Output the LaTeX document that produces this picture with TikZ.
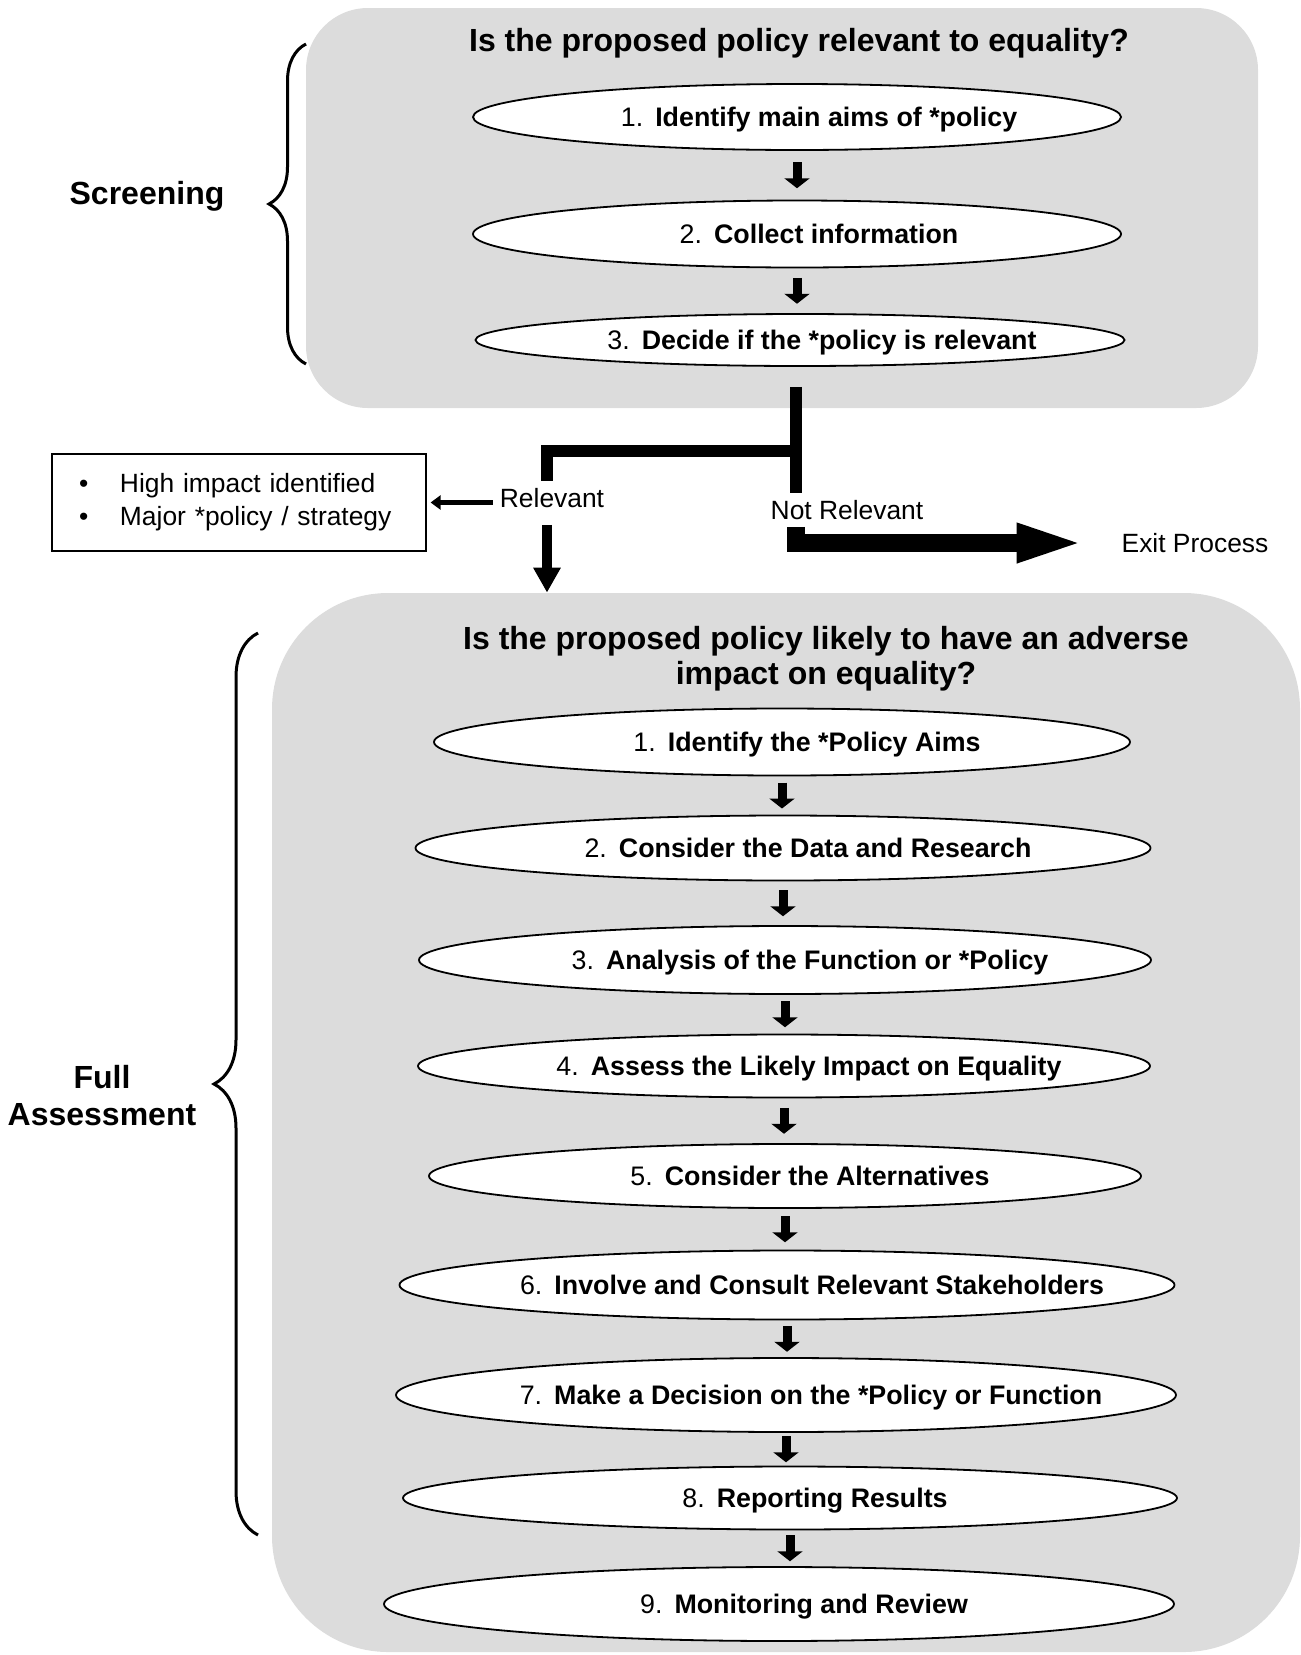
\documentclass[tikz,border=0pt]{standalone}
\usepackage{fontspec}
\setmainfont{Liberation Sans}
\usepackage{tikz}
\usetikzlibrary{arrows.meta,positioning,calc,shapes.geometric,decorations.pathreplacing}

\definecolor{panelgray}{RGB}{220,220,220}

% text of a stage, kept out of the ellipse size
\newcommand{\stagetext}[3][25pt]{\makebox[0pt]{\raisebox{-0.358em}[0pt][0pt]{\hspace*{#1}#2.\hspace{0.45em}\textbf{#3}}}}
\newcommand{\bulletline}[1]{\makebox[20.5pt][l]{\textbullet}#1}
\newcommand{\stagelink}[2]{\draw[linkarrow] ($(#1.south)!.5!(#1.south |- #2.north)+(0,-13)$) -- ++(0,26);}

\begin{document}
\begin{tikzpicture}[
	x=0.5pt, y=-0.5pt,
	panel/.style={fill=panelgray, rounded corners=#1, inner sep=0pt},
	stage/.style={
		ellipse,
		draw,
		line width=0.9pt,
		fill=white,
		inner sep=0pt,
		font=\fontsize{13.4}{16}\selectfont
	},
	heading/.style={font=\bfseries\fontsize{16}{17.5}\selectfont, align=center, inner sep=0pt},
	plain/.style={font=\fontsize{13.2}{16.5}\selectfont},
	infobox/.style={
		draw,
		line width=0.6pt,
		minimum width=187pt,
		minimum height=48.5pt,
		text width=160pt,
		inner xsep=13.5pt,
		align=left,
		font=\fontsize{13.2}{16.5}\selectfont
	},
	linkarrow/.style={line width=4.5pt, -{Triangle[width=12.5pt,length=5pt]}},
	forkline/.style={line width=6.2pt, line join=miter},
	relarrow/.style={line width=5pt, -{Triangle[width=13pt,length=12.5pt]}, shorten <=5pt},
	exitarrow/.style={line width=9pt, line join=miter, -{Triangle[width=17pt,length=36pt]}, shorten >=13pt},
	sidearrow/.style={line width=2.5pt, -{Triangle[width=7pt,length=5pt]}, shorten >=2pt},
	bracket/.style={decorate, decoration={brace, amplitude=#1}, line width=1.5pt}
	]
	\useasboundingbox (0,0) rectangle (1301,1655);
	
	% grey panels
	\node[panel=31pt, minimum width=476pt, minimum height=200pt] (screen) at (782,208) {};
	\node[panel=58pt, minimum width=514pt, minimum height=529.5pt] (assess) at (786,1122.5) {};
	
	\node[heading] (q1) at (799,43) {Is the proposed policy relevant to equality?};
	\node[heading] (q2) at (826,658.5) {Is the proposed policy likely to have an adverse\\impact on equality?};
	
	% screening stages
	\node[stage, minimum width=324pt, minimum height=33pt] (t1) at (797,117) {\stagetext[22pt]{1}{Identify main aims of *policy}};
	\node[stage, minimum width=324pt, minimum height=33.5pt] (t2) at (797,234) {\stagetext[22pt]{2}{Collect information}};
	\node[stage, minimum width=324.5pt, minimum height=26pt] (t3) at (800,340) {\stagetext[22pt]{3}{Decide if the *policy is relevant}};
	
	% full assessment stages
	\node[stage, minimum width=348pt, minimum height=33.5pt] (a1) at (782,742) {\stagetext{1}{Identify the *Policy Aims}};
	\node[stage, minimum width=367.5pt, minimum height=32.5pt] (a2) at (783,848) {\stagetext{2}{Consider the Data and Research}};
	\node[stage, minimum width=366pt, minimum height=34pt] (a3) at (785,960) {\stagetext{3}{Analysis of the Function or *Policy}};
	\node[stage, minimum width=366pt, minimum height=31.5pt] (a4) at (784,1066) {\stagetext{4}{Assess the Likely Impact on Equality}};
	\node[stage, minimum width=356pt, minimum height=32pt] (a5) at (785,1176) {\stagetext{5}{Consider the Alternatives}};
	\node[stage, minimum width=387.5pt, minimum height=34.5pt] (a6) at (787,1285) {\stagetext{6}{Involve and Consult Relevant Stakeholders}};
	\node[stage, minimum width=390pt, minimum height=37pt] (a7) at (786,1395) {\stagetext{7}{Make a Decision on the *Policy or Function}};
	\node[stage, minimum width=387pt, minimum height=31.5pt] (a8) at (790,1498) {\stagetext{8}{Reporting Results}};
	\node[stage, minimum width=395pt, minimum height=37pt] (a9) at (779,1604) {\stagetext{9}{Monitoring and Review}};
	
	% side labels
	\node[heading] (screenlbl) at (147,196) {Screening};
	\node[heading, font=\bfseries\fontsize{16}{18.5}\selectfont] (fulllbl) at (102,1096) {Full\\Assessment};
	
	\node[plain] (rel) at (552,498) {Relevant};
	\node[plain] (notrel) at (847,510) {Not Relevant};
	\node[plain] (exit) at (1195,543) {Exit Process};
	\node[infobox] (impact) at (239,502.5) {\bulletline{High impact identified}\\\bulletline{Major *policy / strategy}};
	
	% stage arrows
	\stagelink{t1}{t2}
	\stagelink{t2}{t3}
	
	\stagelink{a1}{a2}
	\stagelink{a2}{a3}
	\stagelink{a3}{a4}
	\stagelink{a4}{a5}
	\stagelink{a5}{a6}
	\stagelink{a6}{a7}
	\stagelink{a7}{a8}
	\stagelink{a8}{a9}
	
	% decision fork
	\draw[forkline] ([xshift=-2pt,yshift=-10pt]t3.south) -- ++(0,64) coordinate (fork) -| ([xshift=-2.5pt]rel.north);
	\draw[forkline] (fork) -- (fork |- notrel.north);
	\draw[relarrow] ([xshift=-2.5pt]rel.south) -- ([xshift=-2.5pt]rel.south |- assess.north);
	\draw[sidearrow] (rel.west |- impact.east) -- (impact.east);
	\draw[exitarrow] (fork |- notrel.south) |- (exit.west);
	
	% braces
	\draw[bracket=18.5pt] (306,364) -- (306,44);
	\draw[bracket=22pt] (258,1535) -- (258,633);
	
\end{tikzpicture}
\end{document}
